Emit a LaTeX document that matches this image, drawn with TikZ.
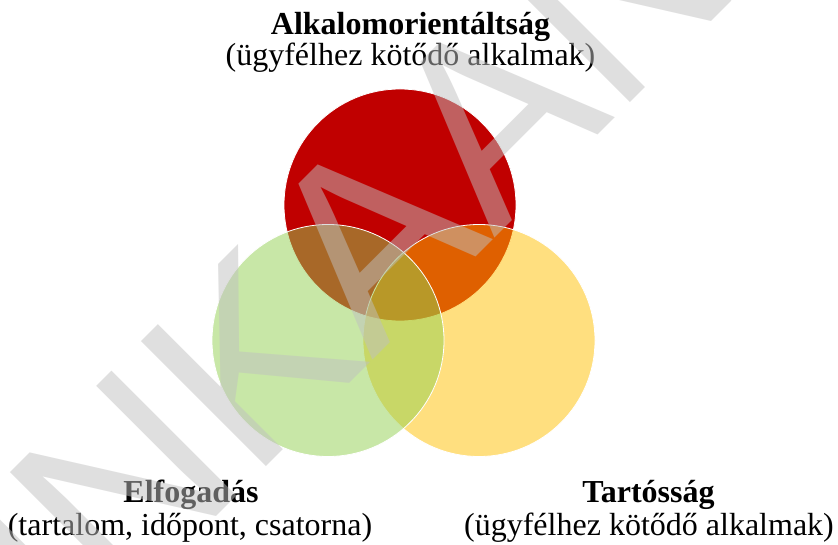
\documentclass[tikz,border=0pt]{standalone}
\usepackage{fontspec}
\setmainfont{Liberation Serif}
\newfontfamily\wmfont{Liberation Sans}
\definecolor{vred}{HTML}{C00000}
\definecolor{vgreen}{HTML}{92D050}
\definecolor{vyellow}{HTML}{FFC000}
\definecolor{wmgray}{RGB}{192,192,192}
\begin{document}
\begin{tikzpicture}[x=1pt,y=1pt,
  venn/.style={circle, minimum size=232pt, inner sep=0pt, draw=white, line width=0.8pt},
  head/.style={font=\fontsize{32}{38}\selectfont\bfseries, anchor=base, inner sep=0pt},
  sub/.style={font=\fontsize{32}{38}\selectfont, anchor=base, inner sep=0pt},
  wmark/.style={font=\wmfont\fontsize{257}{257}\selectfont, text=wmgray, text opacity=0.5,
    rotate=45, anchor=base west, inner sep=0pt, outer sep=0pt}]
\useasboundingbox (0,0) rectangle (838,544);
\fill[white] (0,0) rectangle (838,544);
% Venn circles
\node[venn, fill=vred] (red) at (400,339) {};
\node[venn, fill=vyellow, fill opacity=0.5] (yellow) at (479,203.5) {};
\node[venn, fill=vgreen, fill opacity=0.5] (green) at (328,203.5) {};
% labels
\node[head] (t1) at (410.5,509) {Alkalomorientáltság};
\node[sub] (t2) at (410.5,478) {(ügyfélhez kötődő alkalmak)};
\node[head] (l1) at (191,41.3) {Elfogadás};
\node[sub] (l2) at (190,9) {(tartalom, időpont, csatorna)};
\node[head] (r1) at (648.5,41.3) {Tartósság};
\node[sub] (r2) at (649,9) {(ügyfélhez kötődő alkalmak)};
% watermark
\begin{scope}
\clip (0,0) rectangle (838,544);
\node[wmark] (wm) at (-162.1,-351.1) {MUNKAANYAG};
\end{scope}
\end{tikzpicture}
\end{document}
